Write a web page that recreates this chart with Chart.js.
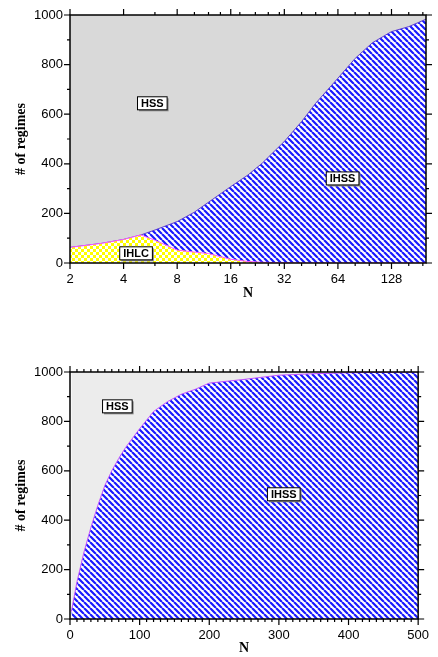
<!DOCTYPE html>
<html>
<head>
<meta charset="utf-8">
<script src="https://cdn.jsdelivr.net/npm/chart.js@4.4.1/dist/chart.umd.min.js"></script>
<style>
  html, body { margin: 0; padding: 0; background: #fff; overflow: hidden; }
  #wrap { position: relative; width: 438px; height: 657px; }
  #top { position: absolute; left: 0; top: 0; }
  #bottom { position: absolute; left: 0; top: 320px; }
</style>
</head>
<body>
<div id="wrap">
  <canvas id="top" width="438" height="310"></canvas>
  <canvas id="bottom" width="438" height="337"></canvas>
</div>
<script>
// top panel (log2 axis)
const topN    = [2, 3, 4, 5, 6, 8, 10, 12, 16, 20, 24, 32, 40, 48, 64, 80, 100, 128, 160, 200];
const topIHLC = [63, 79, 95, 113, 92, 52, 44, 38, 15, 6, 3, 1, 0, 0, 0, 0, 0, 0, 0, 0];
const topIHSS = [0, 0, 0, 0, 41, 115, 161, 207, 293, 349, 399, 489, 570, 644, 745, 825, 888, 933, 953, 983];
const topHSS  = [937, 921, 905, 887, 867, 833, 795, 755, 692, 645, 598, 510, 430, 356, 255, 175, 112, 67, 47, 17];
const topXTicks = [2, 4, 8, 16, 32, 64, 128];
const topXMinor = [6, 10, 12, 14, 18, 22, 26, 30, 40, 48, 56, 80, 96, 112, 160, 192];

// bottom panel (linear axis)
const botN    = [2, 10, 20, 30, 40, 50, 60, 70, 80, 100, 120, 140, 160, 180, 200, 250, 300, 350, 400, 500];
const botIHSS = [30, 150, 270, 370, 460, 540, 600, 650, 695, 770, 840, 880, 910, 930, 955, 970, 987, 993, 997, 1000];
const botHSS  = [970, 850, 730, 630, 540, 460, 400, 350, 305, 230, 160, 120, 90, 70, 45, 30, 13, 7, 3, 0];
const botXTicks = [0, 100, 200, 300, 400, 500];
const botXMinor = [];
for (let v = 10; v < 500; v += 10) if (v % 100) botXMinor.push(v);

const yTicks = [0, 200, 400, 600, 800, 1000];
const yMinor = [100, 300, 500, 700, 900];

const pts = (xs, ys) => xs.map((x, i) => ({ x: x, y: ys[i] }));

function stripes(color) {
  const c = document.createElement('canvas');
  c.width = 6; c.height = 6;
  const g = c.getContext('2d');
  g.fillStyle = '#fff'; g.fillRect(0, 0, 6, 6);
  g.strokeStyle = color; g.lineWidth = 2.2;
  g.beginPath();
  for (let k = -6; k <= 6; k += 6) { g.moveTo(k, 0); g.lineTo(k + 6, 6); }
  g.stroke();
  return g.createPattern(c, 'repeat');
}

function checker(color) {
  const c = document.createElement('canvas');
  c.width = 6; c.height = 6;
  const g = c.getContext('2d');
  g.fillStyle = '#fff'; g.fillRect(0, 0, 6, 6);
  g.fillStyle = color;
  g.fillRect(0, 0, 3, 3); g.fillRect(3, 3, 3, 3);
  return g.createPattern(c, 'repeat');
}

function boxLabel(ctx, text, x, y) {
  ctx.font = 'bold 11px "Liberation Sans", Arial, sans-serif';
  const w = ctx.measureText(text).width + 7, h = 13;
  ctx.fillStyle = '#888';
  ctx.fillRect(x - w / 2 + 1.5, y - h / 2 + 1.5, w, h);
  ctx.fillStyle = '#fff';
  ctx.fillRect(x - w / 2, y - h / 2, w, h);
  ctx.strokeStyle = '#000'; ctx.lineWidth = 1;
  ctx.strokeRect(x - w / 2, y - h / 2, w, h);
  ctx.fillStyle = '#000';
  ctx.textAlign = 'center'; ctx.textBaseline = 'middle';
  ctx.fillText(text, x, y + 0.5);
}

// frame with outward ticks on all four sides + boxed region labels
const frameTicks = {
  id: 'frameTicks',
  afterDatasetsDraw(chart, args, opts) {
    const { ctx, chartArea: a, scales: { x, y } } = chart;
    ctx.save();
    ctx.strokeStyle = '#000';
    ctx.lineWidth = 1.2;
    ctx.beginPath();
    const xt = (vals, len) => vals.forEach(v => {
      const p = x.getPixelForValue(v);
      ctx.moveTo(p, a.bottom); ctx.lineTo(p, a.bottom + len);
      ctx.moveTo(p, a.top); ctx.lineTo(p, a.top - len);
    });
    const yt = (vals, len) => vals.forEach(v => {
      const p = y.getPixelForValue(v);
      ctx.moveTo(a.left, p); ctx.lineTo(a.left - len, p);
      ctx.moveTo(a.right, p); ctx.lineTo(a.right + len, p);
    });
    xt(opts.xMajor, 6); xt(opts.xMinor, 3);
    yt(yTicks, 6); yt(yMinor, 3);
    ctx.stroke();
    ctx.lineWidth = 1.5;
    ctx.strokeRect(a.left, a.top, a.width, a.height);
    opts.labels.forEach(l => boxLabel(ctx, l.text, x.getPixelForValue(l.x), y.getPixelForValue(l.y)));
    ctx.restore();
  }
};

const tickFont = { family: '"Liberation Sans", Arial, sans-serif', size: 13 };
const titleFont = { family: '"Liberation Serif", "Times New Roman", serif', size: 14, weight: 'bold' };

function yAxis() {
  return {
    stacked: true,
    min: 0, max: 1000,
    grid: { display: false, drawTicks: false },
    border: { display: false },
    ticks: { stepSize: 200, padding: 7, color: '#000', font: tickFont, callback: v => String(v) },
    title: { display: true, text: '# of regimes', color: '#000', font: titleFont, padding: { top: 13, bottom: 0 } },
    afterFit: s => { s.width = 70; }
  };
}

const ctxTop = document.getElementById('top').getContext('2d');
new Chart(ctxTop, {
  type: 'line',
  data: {
    datasets: [
      { label: 'IHLC', data: pts(topN, topIHLC), fill: 'origin', backgroundColor: checker('#ffff00'),
        borderColor: '#ff55ff', borderWidth: 1 },
      { label: 'IHSS', data: pts(topN, topIHSS), fill: '-1', backgroundColor: stripes('#1a1aff'),
        borderColor: '#5a3cd0', borderWidth: 1 },
      { label: 'HSS', data: pts(topN, topHSS), fill: '-1', backgroundColor: '#d9d9d9',
        borderWidth: 0 }
    ]
  },
  options: {
    responsive: false,
    animation: false,
    elements: { point: { radius: 0 }, line: { tension: 0 } },
    layout: { padding: { left: 0, right: 12, top: 15, bottom: 0 } },
    scales: {
      x: {
        type: 'logarithmic',
        min: 2, max: 200,
        grid: { display: false, drawTicks: false },
        border: { display: false },
        afterBuildTicks: s => { s.ticks = topXTicks.map(v => ({ value: v })); },
        ticks: { autoSkip: false, maxRotation: 0, padding: 9, color: '#000', font: tickFont, callback: v => String(v) },
        title: { display: true, text: 'N', color: '#000', font: titleFont, padding: { top: 0, bottom: 8 } },
        afterFit: s => { s.height = 47; }
      },
      y: yAxis()
    },
    plugins: {
      legend: { display: false },
      tooltip: { enabled: false },
      frameTicks: {
        xMajor: topXTicks, xMinor: topXMinor,
        labels: [
          { text: 'HSS', x: 5.8, y: 644 },
          { text: 'IHSS', x: 68, y: 341 },
          { text: 'IHLC', x: 4.7, y: 39 }
        ]
      }
    }
  },
  plugins: [frameTicks]
});

const ctxBot = document.getElementById('bottom').getContext('2d');
new Chart(ctxBot, {
  type: 'line',
  data: {
    datasets: [
      { label: 'IHSS', data: pts(botN, botIHSS), fill: 'origin', backgroundColor: stripes('#1a1aff'),
        borderColor: '#c050ff', borderWidth: 1 },
      { label: 'HSS', data: pts(botN, botHSS), fill: '-1', backgroundColor: '#ececec',
        borderWidth: 0 }
    ]
  },
  options: {
    responsive: false,
    animation: false,
    elements: { point: { radius: 0 }, line: { tension: 0 } },
    layout: { padding: { left: 0, right: 12, top: 52, bottom: 0 } },
    scales: {
      x: {
        type: 'linear',
        min: 0, max: 500,
        grid: { display: false, drawTicks: false },
        border: { display: false },
        ticks: { stepSize: 100, autoSkip: false, maxRotation: 0, padding: 9, color: '#000', font: tickFont },
        title: { display: true, text: 'N', color: '#000', font: titleFont, padding: { top: 0, bottom: 0 } },
        afterFit: s => { s.height = 38; }
      },
      y: yAxis()
    },
    plugins: {
      legend: { display: false },
      tooltip: { enabled: false },
      frameTicks: {
        xMajor: botXTicks, xMinor: botXMinor,
        labels: [
          { text: 'HSS', x: 68, y: 861 },
          { text: 'IHSS', x: 307, y: 505 }
        ]
      }
    }
  },
  plugins: [frameTicks]
});
</script>
</body>
</html>
